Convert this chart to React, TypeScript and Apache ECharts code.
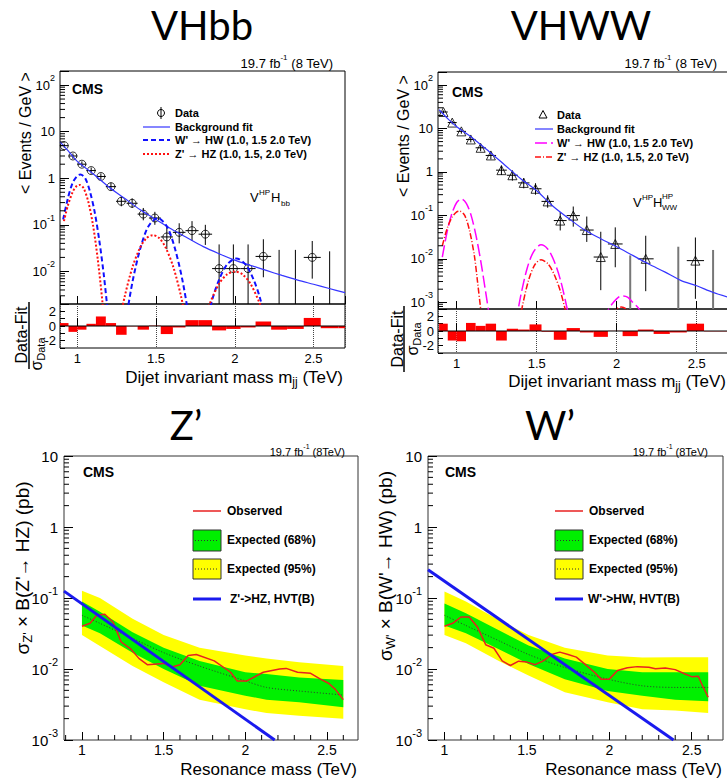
import React, { useEffect, useRef } from "react";
import * as echarts from "echarts";

// ================= DATA =================
// dijet mass bin edges (TeV)
const binEdges = [0.890, 0.944, 1.000, 1.058, 1.118, 1.181, 1.246, 1.313, 1.383, 1.455, 1.530, 1.607, 1.687, 1.770, 1.856, 1.945, 2.037, 2.132, 2.231, 2.332, 2.438, 2.546, 2.659, 2.775];

// ---- VHbb (events / GeV per bin, null = empty bin) ----
const hbbY = [5.0, 3.0, 2.0, 1.46, 1.09, 0.66, 0.32, 0.29, 0.17, 0.14, 0.055, 0.069, 0.075, 0.063, 0.0115, 0.0115, 0.0115, 0.021, null, null, 0.020, null];
const hbbLo = [4.5, 2.6, 1.75, 1.25, 0.93, 0.55, 0.25, 0.23, 0.125, 0.1, 0.03, 0.04, 0.045, 0.037, 0.0015, 0.0015, 0.0015, 0.0075, 0.0005, 0.0005, 0.007, 0.0005];
const hbbHi = [5.5, 3.4, 2.3, 1.7, 1.27, 0.8, 0.41, 0.37, 0.23, 0.19, 0.09, 0.108, 0.12, 0.1, 0.038, 0.038, 0.038, 0.049, 0.029, 0.029, 0.045, 0.027];
const fitX = [0.89, 0.95, 1.0, 1.1, 1.2, 1.3, 1.4, 1.5, 1.6, 1.7, 1.8, 1.9, 2.0, 2.1, 2.2, 2.3, 2.4, 2.5, 2.6, 2.7];
const hbbFitY = [6.0, 3.6, 2.3, 1.25, 0.65, 0.37, 0.21, 0.13, 0.08, 0.052, 0.034, 0.024, 0.0175, 0.0135, 0.0105, 0.0082, 0.0065, 0.0053, 0.0043, 0.0035];
const hbbWpPeaks = [
  [[0.91, 0.13], [0.94, 0.37], [0.97, 0.79], [1.0, 1.13], [1.02, 1.2], [1.05, 1.0], [1.08, 0.52], [1.11, 0.19], [1.14, 0.045], [1.17, 0.0075], [1.2, 0.0008]],
  [[1.30, 0.0006], [1.35, 0.0059], [1.40, 0.031], [1.45, 0.091], [1.51, 0.14], [1.57, 0.091], [1.62, 0.031], [1.67, 0.0059], [1.72, 0.0006]],
  [[1.82, 0.0008], [1.86, 0.0027], [1.90, 0.0066], [1.95, 0.0139], [2.01, 0.019], [2.07, 0.0139], [2.12, 0.0066], [2.16, 0.0027], [2.20, 0.0008]],
];
const hbbZpPeaks = [
  [[0.915, 0.12], [0.94, 0.26], [0.97, 0.5], [0.99, 0.65], [1.015, 0.72], [1.04, 0.61], [1.07, 0.31], [1.10, 0.097], [1.13, 0.018], [1.16, 0.0021], [1.19, 0.00014]],
  [[1.26, 0.0006], [1.30, 0.0028], [1.35, 0.0123], [1.40, 0.033], [1.44, 0.052], [1.48, 0.06], [1.52, 0.052], [1.56, 0.033], [1.61, 0.0123], [1.66, 0.0028], [1.70, 0.0006]],
  [[1.80, 0.00083], [1.84, 0.002], [1.90, 0.0054], [1.95, 0.0086], [2.0, 0.01], [2.05, 0.0086], [2.10, 0.0054], [2.16, 0.002], [2.20, 0.00083]],
];
const hbbResidual = [0.4, -0.8, -0.5, 0.3, 1.3, 0.4, -1.2, -0.05, -0.5, 0.05, -1.1, -0.2, 0.8, 0.8, -0.6, -0.4, -0.2, 0.6, -0.5, -0.4, 1.1, -0.3, -0.3];

// ---- VHWW ----
const hwwY = [24, 13.7, 8.6, 5.6, 3.6, 2.4, 1.1, 0.84, 0.56, 0.41, 0.21, 0.076, 0.099, 0.046, 0.011, 0.022, null, 0.01, null, null, 0.0091, null];
const hwwLo = [22, 12.5, 7.6, 4.8, 3.0, 1.95, 0.85, 0.63, 0.42, 0.3, 0.15, 0.045, 0.055, 0.0245, 0.0019, 0.0064, 0.0001, 0.0018, null, 0.0001, 0.0012, 0.0001];
const hwwHi = [26, 15, 9.6, 6.4, 4.2, 2.9, 1.4, 1.08, 0.72, 0.55, 0.29, 0.12, 0.16, 0.094, 0.042, 0.053, 0.012, 0.034, null, 0.019, 0.031, 0.016];
const hwwFitY = [27, 16, 11, 6.0, 3.0, 1.45, 0.7, 0.37, 0.165, 0.085, 0.046, 0.029, 0.019, 0.012, 0.0076, 0.005, 0.0032, 0.0024, 0.0017, 0.0013];
const hwwWpPeaks = [
  [[0.91, 0.011], [0.94, 0.042], [0.97, 0.111], [1.0, 0.198], [1.03, 0.24], [1.06, 0.19], [1.09, 0.1], [1.12, 0.035], [1.15, 0.009], [1.18, 0.0018], [1.20, 0.0006]],
  [[1.37, 0.00035], [1.40, 0.0014], [1.44, 0.006], [1.48, 0.0145], [1.527, 0.021], [1.57, 0.0166], [1.61, 0.0087], [1.65, 0.0031], [1.69, 0.00072], [1.72, 0.00019]],
  [[1.92, 0.0004], [1.95, 0.0007], [1.98, 0.001], [2.01, 0.0013], [2.04, 0.0014], [2.07, 0.0013], [2.10, 0.001], [2.14, 0.0007], [2.17, 0.00035]],
];
const hwwZpPeaks = [
  [[0.91, 0.02], [0.94, 0.05], [0.97, 0.09], [1.0, 0.12], [1.02, 0.125], [1.05, 0.1], [1.08, 0.045], [1.11, 0.012], [1.13, 0.003], [1.15, 0.0007], [1.17, 0.0002]],
  [[1.38, 0.0002], [1.41, 0.0008], [1.45, 0.0033], [1.49, 0.0075], [1.527, 0.0095], [1.57, 0.0077], [1.61, 0.0043], [1.65, 0.0017], [1.69, 0.00045]],
  [[1.95, 0.0003], [1.97, 0.0005], [2.0, 0.0007], [2.03, 0.00078], [2.06, 0.0007], [2.09, 0.0005], [2.11, 0.0003]],
];
const hwwResidual = [1.0, -1.3, -1.4, 1.1, 0.7, 1.0, -1.3, 0.3, 0.2, 0.9, -0.1, -1.2, 0.4, -0.2, -0.8, 0.02, -0.7, 0.2, -0.4, -0.2, 1.0, -0.05, -0.05];

// ---- Z' limits (pb) ----
const zBandX = [1.0, 1.11, 1.31, 1.5, 1.72, 2.0, 2.13, 2.33, 2.6];
const z95Hi = [0.126, 0.1, 0.051, 0.03, 0.020, 0.0155, 0.014, 0.0124, 0.011];
const z95Lo = [0.03, 0.021, 0.011, 0.0065, 0.0037, 0.0027, 0.0024, 0.0022, 0.002];
const z68Hi = [0.089, 0.064, 0.033, 0.020, 0.013, 0.009, 0.0085, 0.0076, 0.0070];
const z68Lo = [0.041, 0.032, 0.017, 0.010, 0.0058, 0.0042, 0.0037, 0.0034, 0.0029];
const zMedian = [0.057, 0.044, 0.027, 0.017, 0.011, 0.0068, 0.0055, 0.0049, 0.0043];
const zObsX = [1.0, 1.05, 1.09, 1.14, 1.19, 1.24, 1.30, 1.35, 1.40, 1.50, 1.55, 1.60, 1.65, 1.70, 1.81, 1.91, 1.95, 2.01, 2.11, 2.21, 2.25, 2.32, 2.40, 2.46, 2.51, 2.55, 2.6];
const zObsY = [0.040, 0.044, 0.057, 0.059, 0.046, 0.024, 0.019, 0.014, 0.0115, 0.012, 0.0107, 0.0115, 0.0155, 0.016, 0.013, 0.009, 0.0068, 0.0068, 0.009, 0.0100, 0.0102, 0.009, 0.0087, 0.0072, 0.0063, 0.0052, 0.0037];
const zTheoryX = [0.89, 2.18];
const zTheoryY = [0.125, 0.001];

// ---- W' limits (pb) ----
const wBandX = [1.0, 1.13, 1.33, 1.51, 1.73, 1.99, 2.2, 2.4, 2.6];
const w95Hi = [0.123, 0.089, 0.049, 0.030, 0.020, 0.0155, 0.0145, 0.0146, 0.0146];
const w95Lo = [0.030, 0.023, 0.013, 0.0081, 0.0047, 0.0034, 0.0027, 0.0026, 0.0024];
const w68Hi = [0.084, 0.061, 0.035, 0.0215, 0.014, 0.010, 0.009, 0.009, 0.009];
const w68Lo = [0.041, 0.032, 0.019, 0.0118, 0.0072, 0.0049, 0.0042, 0.0037, 0.0035];
const wMedian = [0.057, 0.041, 0.025, 0.016, 0.0105, 0.0072, 0.0058, 0.0055, 0.0055];
const wObsX = [1.0, 1.05, 1.10, 1.15, 1.20, 1.25, 1.30, 1.35, 1.40, 1.45, 1.50, 1.55, 1.60, 1.65, 1.70, 1.75, 1.80, 1.85, 1.91, 1.95, 2.0, 2.05, 2.11, 2.17, 2.24, 2.28, 2.34, 2.40, 2.46, 2.50, 2.54, 2.56, 2.6];
const wObsY = [0.040, 0.044, 0.054, 0.054, 0.039, 0.022, 0.0196, 0.013, 0.0112, 0.0129, 0.0125, 0.0115, 0.013, 0.016, 0.0173, 0.016, 0.0147, 0.0118, 0.0090, 0.0072, 0.0072, 0.0095, 0.0104, 0.0108, 0.0106, 0.0101, 0.0103, 0.0098, 0.0085, 0.0078, 0.0079, 0.0062, 0.004];
const wTheoryX = [0.90, 2.39];
const wTheoryY = [0.25, 0.001];

// axis ranges
const TL_X = [0.89, 2.7];
const TR_X = [0.883, 2.702];
const BL_X = [0.89, 2.69];
const BR_X = [0.9, 2.69];
const TL_Y = [0.002, 200];
const TR_Y = [0.0007, 200];
const B_Y = [0.001, 10];

// ================= HELPERS =================
const FONT = '"Liberation Sans", Arial, Helvetica, sans-serif';
const TITLE_FONT = 'Lato, "Open Sans", sans-serif';

const zip = (xs: number[], ys: number[]) => xs.map((x, i) => [x, ys[i]]);

function logLabel(v: number) {
  const e = Math.log10(v);
  const r = Math.round(e);
  if (Math.abs(e - r) > 1e-6) return "";
  if (r === 0) return "{b|1}";
  if (r === 1) return "{b|10}";
  return `{b|10}{s|${r}}`;
}
function halfLabel(v: number) {
  const r = Math.round(v * 2) / 2;
  if (Math.abs(v - r) > 1e-6) return "";
  return String(r);
}

function logY(gridIndex: number, range: number[], fs: number, margin: number) {
  return {
    type: "log", logBase: 10, gridIndex, min: range[0], max: range[1],
    axisLine: { show: false },
    axisTick: { show: true, inside: true, length: 9, lineStyle: { color: "#000", width: 1 } },
    splitLine: { show: false },
    axisLabel: {
      show: true, margin, color: "#000", fontFamily: FONT, fontSize: fs,
      formatter: logLabel,
      rich: {
        b: { fontSize: fs, fontFamily: FONT, color: "#000", lineHeight: fs + 10 },
        s: { fontSize: Math.round(fs * 0.7), fontFamily: FONT, color: "#000", verticalAlign: "top", lineHeight: Math.round(fs * 0.75) },
      },
    },
  };
}
function valX(gridIndex: number, range: number[], show: boolean, fs: number, dotted: boolean, margin: number) {
  return {
    type: "value", gridIndex, min: range[0], max: range[1], splitNumber: 4,
    axisLine: { show: false },
    axisTick: { show: true, inside: true, length: 8, lineStyle: { color: "#000", width: 1 } },
    splitLine: { show: dotted, lineStyle: { type: "dotted", color: "#444", width: 1 } },
    axisLabel: { show, margin, color: "#000", fontFamily: FONT, fontSize: fs, formatter: halfLabel, showMinLabel: false, showMaxLabel: false },
  };
}
function resY(gridIndex: number) {
  return {
    type: "value", gridIndex, min: -3, max: 3, interval: 1,
    axisLine: { show: false },
    axisTick: { show: true, inside: true, length: 5, lineStyle: { color: "#000" } },
    splitLine: { show: false },
    axisLabel: { margin: 4, fontSize: 13, color: "#000", fontFamily: FONT, formatter: (v: number) => (Math.abs(v % 2) < 1e-9 ? String(v) : "") },
  };
}

function errorBars(ai: number, ys: any[], lo: any[], hi: any[], emptyColor: string, emptyWidth: number) {
  const items: number[][] = [];
  ys.forEach((y, i) => {
    if (hi[i] == null) return;
    const xc = (binEdges[i] + binEdges[i + 1]) / 2;
    items.push([xc, y == null ? hi[i] : y, lo[i], hi[i], binEdges[i], binEdges[i + 1], y == null ? 0 : 1]);
  });
  return {
    type: "custom", xAxisIndex: ai, yAxisIndex: ai, clip: true, z: 3, silent: true,
    encode: { x: 0, y: 1 },
    data: items,
    renderItem: (_p: any, api: any) => {
      const xc = api.value(0), y = api.value(1), l = api.value(2), h = api.value(3), x0 = api.value(4), x1 = api.value(5), has = api.value(6);
      const pT = api.coord([xc, h]);
      const pB = api.coord([xc, l]);
      const children: any[] = [
        { type: "line", shape: { x1: pT[0], y1: pT[1], x2: pB[0], y2: pB[1] }, style: { stroke: has ? "#000" : emptyColor, lineWidth: has ? 1 : emptyWidth } },
      ];
      if (has) {
        const pL = api.coord([x0, y]);
        const pR = api.coord([x1, y]);
        children.push({ type: "line", shape: { x1: pL[0], y1: pL[1], x2: pR[0], y2: pR[1] }, style: { stroke: "#000", lineWidth: 1 } });
      }
      return { type: "group", children };
    },
  };
}
function markers(ai: number, ys: any[], symbol: string, size: number) {
  const pts: number[][] = [];
  ys.forEach((y, i) => {
    if (y == null) return;
    pts.push([(binEdges[i] + binEdges[i + 1]) / 2, y]);
  });
  return {
    type: "scatter", xAxisIndex: ai, yAxisIndex: ai, symbol, symbolSize: size, silent: true, z: 4,
    itemStyle: { color: "rgba(255,255,255,0)", borderColor: "#000", borderWidth: 1 },
    data: pts,
  };
}
function lineS(ai: number, data: number[][], color: string, width: number, type: any, smooth: any, z = 5) {
  return {
    type: "line", xAxisIndex: ai, yAxisIndex: ai, data, showSymbol: false, symbol: "none", smooth, silent: true, z,
    lineStyle: { color, width, type }, clip: true,
  };
}
function residualBars(ai: number, vals: number[]) {
  return {
    type: "custom", xAxisIndex: ai, yAxisIndex: ai, clip: true, silent: true, z: 2,
    encode: { x: [0, 1], y: 2 },
    data: vals.map((v, i) => [binEdges[i], binEdges[i + 1], v]),
    renderItem: (_p: any, api: any) => {
      const a = api.coord([api.value(0), 0]);
      const b = api.coord([api.value(1), api.value(2)]);
      return { type: "rect", shape: { x: a[0], y: Math.min(a[1], b[1]), width: b[0] - a[0], height: Math.abs(b[1] - a[1]) }, style: { fill: "#ff0000" } };
    },
  };
}
function band(ai: number, xs: number[], lo: number[], hi: number[], color: string) {
  return {
    type: "custom", xAxisIndex: ai, yAxisIndex: ai, clip: true, silent: true, z: 1,
    data: [[xs[0], hi[0]]],
    renderItem: (_p: any, api: any) => {
      const pts: number[][] = [];
      xs.forEach((x, i) => pts.push(api.coord([x, hi[i]])));
      for (let i = xs.length - 1; i >= 0; i--) pts.push(api.coord([xs[i], lo[i]]));
      return { type: "polygon", shape: { points: pts }, style: { fill: color } };
    },
  };
}
function logMinorValues(range: number[]) {
  const out: number[] = [];
  for (let e = Math.floor(Math.log10(range[0])); e <= Math.ceil(Math.log10(range[1])); e++) {
    for (let k = 2; k <= 9; k++) {
      const v = k * Math.pow(10, e);
      if (v > range[0] * 1.0001 && v < range[1] * 0.9999) out.push(v);
    }
  }
  return out;
}
function xMinorValues(range: number[]) {
  const out: number[] = [];
  for (let k = 9; k <= 27; k++) {
    const v = k / 10;
    if (k % 5 !== 0 && v > range[0] && v < range[1]) out.push(v);
  }
  return out;
}
function minorTicks(ai: number, xr: number[], yr: number[], yLen: number, xLen: number, doX: boolean) {
  const data: number[][] = logMinorValues(yr).map((v) => [xr[0], v, 0]);
  if (doX) xMinorValues(xr).forEach((v) => data.push([v, yr[0], 1]));
  return {
    type: "custom", xAxisIndex: ai, yAxisIndex: ai, silent: true, z: 6,
    encode: { x: 0, y: 1 },
    data,
    renderItem: (_p: any, api: any) => {
      const c = api.coord([api.value(0), api.value(1)]);
      const isX = api.value(2) === 1;
      return {
        type: "line",
        shape: isX ? { x1: c[0], y1: c[1], x2: c[0], y2: c[1] - xLen } : { x1: c[0], y1: c[1], x2: c[0] + yLen, y2: c[1] },
        style: { stroke: "#000", lineWidth: 1 },
      };
    },
  };
}

function T(x: number, y: number, text: string, o: any = {}) {
  const fs = o.fs || 13;
  const style: any = {
    text, fill: o.color || "#000", fontSize: fs, fontFamily: o.ff || FONT, fontWeight: o.fw || "normal",
    align: o.al || "left", verticalAlign: o.va || "middle", textAlign: o.al || "left", textVerticalAlign: o.va || "middle",
  };
  if (o.rich) style.rich = o.rich;
  if (o.lh) style.lineHeight = o.lh;
  return { type: "text", x, y, rotation: o.rot || 0, silent: true, z: 100, style };
}
function supRich(fs: number) {
  return {
    s: { fontSize: Math.round(fs * 0.65), fontFamily: FONT, fill: "#000", color: "#000", verticalAlign: "top", lineHeight: Math.round(fs * 0.7) },
    u: { fontSize: Math.round(fs * 0.7), fontFamily: FONT, fill: "#000", color: "#000", verticalAlign: "bottom", lineHeight: Math.round(fs * 0.75) },
  };
}
function L(x1: number, y1: number, x2: number, y2: number, stroke: string, lineWidth: number, lineDash?: number[]) {
  return { type: "line", silent: true, z: 100, shape: { x1, y1, x2, y2 }, style: { stroke, lineWidth, lineDash } };
}

function buildOption() {
  const gridBase = { show: true, borderColor: "#000", borderWidth: 1, backgroundColor: "rgba(0,0,0,0)", containLabel: false, outerBoundsMode: "none" };
  const grids = [
    { left: 60, top: 71, width: 285, height: 233 },
    { left: 60, top: 304, width: 285, height: 44 },
    { left: 438, top: 72, width: 291, height: 237 },
    { left: 438, top: 309, width: 291, height: 44 },
    { left: 64, top: 456, width: 294, height: 284 },
    { left: 428, top: 456, width: 295, height: 284 },
  ].map((g, i) => ({ ...gridBase, ...g, borderColor: i >= 4 ? "#333" : "#000" }));

  const xAxis = [
    valX(0, TL_X, false, 13, false, 4),
    valX(1, TL_X, true, 13, true, 4),
    valX(2, TR_X, false, 13, false, 4),
    valX(3, TR_X, true, 13, true, 4),
    valX(4, BL_X, true, 14, false, 3),
    valX(5, BR_X, true, 14, false, 3),
  ];
  const yAxis = [
    logY(0, TL_Y, 13, 5),
    resY(1),
    logY(2, TR_Y, 13, 5),
    resY(3),
    logY(4, B_Y, 15, 6),
    logY(5, B_Y, 15, 6),
  ];

  const series: any[] = [];
  // ---- VHbb ----
  series.push(errorBars(0, hbbY, hbbLo, hbbHi, "#000", 1));
  series.push(markers(0, hbbY, "circle", 8));
  series.push(lineS(0, zip(fitX, hbbFitY), "#3535ff", 1.2, "solid", 0.3));
  hbbWpPeaks.forEach((p) => series.push(lineS(0, p, "#1010ff", 2, [5, 3], 0.3)));
  hbbZpPeaks.forEach((p) => series.push(lineS(0, p, "#ff1010", 2, [2, 2], 0.3)));
  series.push(minorTicks(0, TL_X, TL_Y, 5, 4, false));
  series.push(residualBars(1, hbbResidual));
  series.push(lineS(1, [[TL_X[0], 0], [TL_X[1], 0]], "#000", 1.2, "solid", false, 3));

  // ---- VHWW ----
  series.push(errorBars(2, hwwY, hwwLo, hwwHi, "#777", 2));
  series.push(markers(2, hwwY, "triangle", 9));
  series.push(lineS(2, zip(fitX, hwwFitY), "#3535ff", 1.2, "solid", 0.3));
  hwwWpPeaks.forEach((p) => series.push(lineS(2, p, "#ff00ff", 1.5, [12, 4], 0.3)));
  hwwZpPeaks.forEach((p) => series.push(lineS(2, p, "#ff1010", 1.5, [6, 2, 1, 2], 0.3)));
  series.push(minorTicks(2, TR_X, TR_Y, 5, 4, false));
  series.push(residualBars(3, hwwResidual));
  series.push(lineS(3, [[TR_X[0], 0], [TR_X[1], 0]], "#000", 1.2, "solid", false, 3));

  // ---- Z' ----
  series.push(band(4, zBandX, z95Lo, z95Hi, "#ffff00"));
  series.push(band(4, zBandX, z68Lo, z68Hi, "#00f000"));
  series.push(lineS(4, zip(zBandX, zMedian), "#333", 1, [1, 2], 0.3));
  series.push(lineS(4, zip(zObsX, zObsY), "#e82020", 1.5, "solid", false));
  series.push(lineS(4, zip(zTheoryX, zTheoryY), "#1a1aee", 3, "solid", false));
  series.push(minorTicks(4, BL_X, B_Y, 5, 5, true));

  // ---- W' ----
  series.push(band(5, wBandX, w95Lo, w95Hi, "#ffff00"));
  series.push(band(5, wBandX, w68Lo, w68Hi, "#00f000"));
  series.push(lineS(5, zip(wBandX, wMedian), "#333", 1, [1, 2], 0.3));
  series.push(lineS(5, zip(wObsX, wObsY), "#e82020", 1.5, "solid", false));
  series.push(lineS(5, zip(wTheoryX, wTheoryY), "#1a1aee", 3, "solid", false));
  series.push(minorTicks(5, BR_X, B_Y, 5, 5, true));

  // ---- graphic texts ----
  const g: any[] = [];
  // panel titles
  g.push(T(202, 25, "VHbb", { fs: 40, ff: TITLE_FONT, al: "center" }));
  g.push(T(581, 25, "VHWW", { fs: 40, ff: TITLE_FONT, al: "center" }));
  g.push(T(186, 425, "Z’", { fs: 40, ff: TITLE_FONT, al: "center" }));
  g.push(T(550, 425, "W’", { fs: 40, ff: TITLE_FONT, al: "center" }));

  // lumi labels
  g.push(T(333, 63, "19.7 fb{s|-1} (8 TeV)", { fs: 13, al: "right", rich: supRich(13), lh: 20 }));
  g.push(T(717, 63, "19.7 fb{s|-1} (8 TeV)", { fs: 13, al: "right", rich: supRich(13), lh: 20 }));
  g.push(T(345, 452, "19.7 fb{s|-1} (8TeV)", { fs: 11, al: "right", rich: supRich(11), lh: 18 }));
  g.push(T(708, 452, "19.7 fb{s|-1} (8TeV)", { fs: 11, al: "right", rich: supRich(11), lh: 18 }));

  // CMS
  g.push(T(72, 89, "CMS", { fs: 14, fw: "bold" }));
  g.push(T(452, 92, "CMS", { fs: 14, fw: "bold" }));
  g.push(T(83, 472, "CMS", { fs: 14, fw: "bold" }));
  g.push(T(445, 472, "CMS", { fs: 14, fw: "bold" }));

  // category labels
  g.push(T(250, 197, "V", { fs: 13 }));
  g.push(T(259, 192, "HP", { fs: 8 }));
  g.push(T(271, 197, "H", { fs: 13 }));
  g.push(T(281, 203, "bb", { fs: 8 }));
  g.push(T(633, 202, "V", { fs: 13 }));
  g.push(T(642, 197, "HP", { fs: 8 }));
  g.push(T(653, 202, "H", { fs: 13 }));
  g.push(T(662, 196, "HP", { fs: 8 }));
  g.push(T(662, 207, "WW", { fs: 8 }));

  // VHbb legend
  g.push({ type: "circle", silent: true, z: 100, shape: { cx: 161, cy: 113, r: 3.5 }, style: { fill: "none", stroke: "#000", lineWidth: 1 } });
  g.push(L(161, 107, 161, 119, "#000", 1));
  g.push(T(175, 113, "Data", { fs: 11, fw: "bold" }));
  g.push(L(143, 127, 170, 127, "#3535ff", 1.2));
  g.push(T(175, 127, "Background fit", { fs: 11, fw: "bold" }));
  g.push(L(143, 140, 170, 140, "#1010ff", 2, [5, 3]));
  g.push(T(175, 140, "W' → HW (1.0, 1.5 2.0 TeV)", { fs: 11, fw: "bold" }));
  g.push(L(143, 154, 170, 154, "#ff1010", 2, [2, 2]));
  g.push(T(175, 154, "Z' → HZ (1.0, 1.5, 2.0 TeV)", { fs: 11, fw: "bold" }));

  // VHWW legend
  g.push({ type: "polygon", silent: true, z: 100, shape: { points: [[543, 110.5], [539, 118], [547, 118]] }, style: { fill: "none", stroke: "#000", lineWidth: 1 } });
  g.push(T(557, 115, "Data", { fs: 11, fw: "bold" }));
  g.push(L(535, 129, 553, 129, "#3535ff", 1.2));
  g.push(T(557, 129, "Background fit", { fs: 11, fw: "bold" }));
  g.push(L(535, 143, 553, 143, "#ff00ff", 1.5, [12, 4]));
  g.push(T(557, 143, "W' → HW (1.0, 1.5 2.0 TeV)", { fs: 11, fw: "bold" }));
  g.push(L(535, 157, 553, 157, "#ff1010", 1.5, [6, 2, 1, 2]));
  g.push(T(557, 157, "Z' → HZ (1.0, 1.5, 2.0 TeV)", { fs: 11, fw: "bold" }));

  // limit legends
  const limLegend = (x0: number, tx: number, theoryText: string, thx: number) => {
    g.push(L(x0, 511, x0 + 28, 511, "#e82020", 1.5));
    g.push(T(tx, 511, "Observed", { fs: 12, fw: "bold" }));
    g.push({ type: "rect", silent: true, z: 100, shape: { x: x0, y: 530, width: 28, height: 21 }, style: { fill: "#00f000", stroke: "#333", lineWidth: 1 } });
    g.push(L(x0 + 2, 540.5, x0 + 26, 540.5, "#333", 1, [1, 2]));
    g.push(T(tx, 540, "Expected (68%)", { fs: 12, fw: "bold" }));
    g.push({ type: "rect", silent: true, z: 100, shape: { x: x0, y: 559, width: 28, height: 20 }, style: { fill: "#ffff00", stroke: "#333", lineWidth: 1 } });
    g.push(L(x0 + 2, 569, x0 + 26, 569, "#333", 1, [1, 2]));
    g.push(T(tx, 569, "Expected (95%)", { fs: 12, fw: "bold" }));
    g.push(L(x0, 599, x0 + 28, 599, "#1a1aee", 3));
    g.push(T(thx, 599, theoryText, { fs: 12, fw: "bold" }));
  };
  limLegend(193, 227, "Z'->HZ, HVT(B)", 230);
  limLegend(555, 589, "W'->HW, HVT(B)", 588);

  // axis titles
  const sub17 = supRich(17);
  g.push(T(343, 377, "Dijet invariant mass m{u|jj} (TeV)", { fs: 17, al: "right", rich: sub17, lh: 22 }));
  g.push(T(726, 381, "Dijet invariant mass m{u|jj} (TeV)", { fs: 17, al: "right", rich: sub17, lh: 22 }));
  g.push(T(25, 133, "< Events / GeV >", { fs: 16, al: "center", rot: Math.PI / 2 }));
  g.push(T(403, 136, "< Events / GeV >", { fs: 16, al: "center", rot: Math.PI / 2 }));
  // residual titles
  g.push(T(21, 335, "Data-Fit", { fs: 16, al: "center", rot: Math.PI / 2 }));
  g.push(L(29, 302, 29, 369, "#000", 1.5));
  g.push(T(36, 354, "σ{u|Data}", { fs: 16, al: "center", rot: Math.PI / 2, rich: supRich(16), lh: 20 }));
  g.push(T(397, 339, "Data-Fit", { fs: 16, al: "center", rot: Math.PI / 2 }));
  g.push(L(404, 306, 404, 372, "#000", 1.5));
  g.push(T(412, 339, "σ{u|Data}", { fs: 16, al: "center", rot: Math.PI / 2, rich: supRich(16), lh: 20 }));
  // limit plot titles
  g.push(T(357, 769, "Resonance mass (TeV)", { fs: 17, al: "right" }));
  g.push(T(722, 769, "Resonance mass (TeV)", { fs: 17, al: "right" }));
  g.push(T(22, 568, "σ{u|Z'} × B(Z'→ HZ) (pb)", { fs: 19, al: "center", rot: Math.PI / 2, rich: supRich(19), lh: 24 }));
  g.push(T(385, 566, "σ{u|W'} × B(W'→ HW) (pb)", { fs: 19, al: "center", rot: Math.PI / 2, rich: supRich(19), lh: 24 }));

  return {
    animation: false,
    backgroundColor: "#fff",
    textStyle: { fontFamily: FONT },
    grid: grids,
    xAxis,
    yAxis,
    series,
    graphic: { elements: g },
  };
}

export default function App() {
  const ref = useRef<HTMLDivElement>(null);
  useEffect(() => {
    const el = ref.current;
    if (!el) return;
    const chart = echarts.init(el, null, { renderer: "svg" });
    chart.setOption(buildOption() as any);
    return () => chart.dispose();
  }, []);
  return <div ref={ref} style={{ position: "absolute", left: 0, top: 0, width: 727, height: 779, background: "#fff" }} />;
}
